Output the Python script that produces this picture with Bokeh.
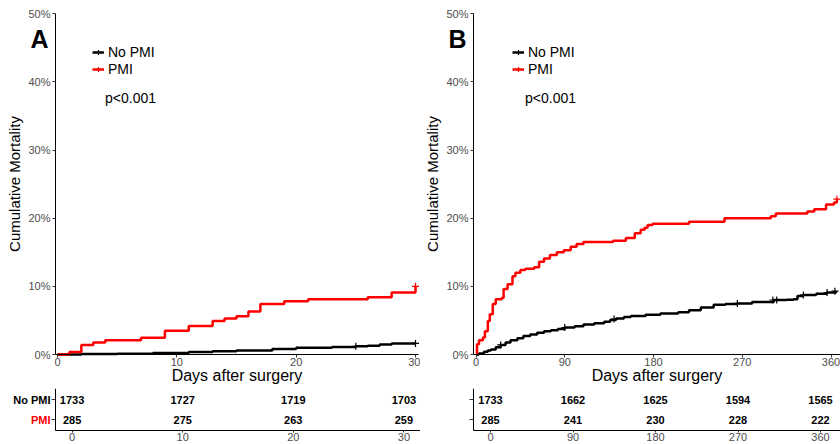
from bokeh.plotting import figure
from bokeh.models import (Legend, LegendItem, Label, FixedTicker, PrintfTickFormatter,
                          Range1d, ColumnDataSource)
from bokeh.layouts import row, column
from bokeh.embed import file_html
from bokeh.resources import INLINE
from bokeh.core.properties import value

FONT = "Liberation Sans"
RED = "#FF0000"
BLACK = "#000000"
TICK_GRAY = "#4D4D4D"

groups = ["No PMI", "PMI"]
y_ticks = [0, 10, 20, 30, 40, 50]

# ---------------- Panel A (30 days) ----------------
a_days_nopmi = [0, 2, 5, 8, 11, 13, 15, 18, 20, 23, 25, 26, 27, 28, 30]
a_cum_nopmi = [0, 0.06, 0.12, 0.23, 0.35, 0.46, 0.58, 0.81, 0.98, 1.1, 1.2, 1.3, 1.45, 1.6, 1.62]
a_days_pmi = [0, 1, 2, 3, 4, 7, 9, 11, 13, 14, 15, 16, 17, 19, 21, 26, 28, 30]
a_cum_pmi = [0, 0.35, 1.4, 1.75, 2.1, 2.45, 3.5, 4.2, 4.9, 5.3, 5.6, 6.3, 7.4, 7.8, 8.1, 8.4, 9.1, 10.0]
a_cens_nopmi_days = [25, 30]
a_cens_nopmi_cum = [1.2, 1.62]
a_cens_pmi_days = [30]
a_cens_pmi_cum = [10.0]
a_ticks = [0, 10, 20, 30]
a_risk_nopmi = [1733, 1727, 1719, 1703]
a_risk_pmi = [285, 275, 263, 259]

# ---------------- Panel B (1 year) ----------------
b_days_nopmi = [0, 3, 8, 12, 15, 20, 25, 30, 35, 42, 48, 55, 62, 69, 76, 83, 90, 100, 109,
                120, 130, 136, 142, 150, 157, 172, 187, 205, 216, 228, 241, 253, 265, 280,
                302, 315, 322, 326, 332, 345, 356, 365]
b_cum_nopmi = [0, 0.15, 0.4, 0.6, 0.75, 1.05, 1.4, 1.75, 2.1, 2.4, 2.7, 2.95, 3.2, 3.4, 3.55,
               3.75, 3.95, 4.15, 4.4, 4.6, 4.8, 5.05, 5.3, 5.5, 5.65, 5.85, 6.0, 6.2, 6.5, 6.9,
               7.3, 7.4, 7.5, 7.7, 8.0, 8.05, 8.1, 8.6, 8.75, 8.9, 9.1, 9.3]
b_days_pmi = [0, 1, 3, 7, 9, 12, 14, 17, 20, 26, 28, 32, 37, 40, 45, 50, 59, 64, 69, 75, 82,
              89, 96, 102, 109, 139, 152, 161, 167, 171, 174, 179, 216, 252, 299, 304, 336,
              343, 355, 363, 366]
b_cum_pmi = [0, 1.5, 2.1, 2.5, 3.4, 4.9, 5.9, 7.4, 8.1, 8.3, 9.6, 10.3, 11.5, 12.0, 12.4,
             12.6, 12.8, 13.6, 14.1, 14.6, 15.0, 15.3, 15.8, 16.2, 16.5, 16.7, 17.1, 17.8,
             18.3, 18.6, 19.0, 19.2, 19.5, 20.0, 20.3, 20.7, 21.0, 21.3, 22.0, 22.3, 22.8]
b_cens_nopmi_days = [25, 90, 140, 265, 301, 305, 332, 356, 364]
b_cens_nopmi_cum = [1.4, 3.95, 5.2, 7.5, 8.0, 8.0, 8.75, 9.1, 9.3]
b_cens_pmi_days = [366]
b_cens_pmi_cum = [22.8]
b_ticks = [0, 90, 180, 270, 360]
b_risk_nopmi = [1733, 1662, 1625, 1594, 1565]
b_risk_pmi = [285, 241, 230, 228, 222]

# ---------------- layout constants (pixels, per panel) ----------------
PW = 420            # panel width
MH = 388            # curve-plot height
TH = 56             # risk-table height
Y_TOP_PX = 13.3     # pixel row of 50 %
Y_ZERO_PX = 354.0   # pixel row of 0 %


def style_axis(ax, font_size="11px"):
    ax.axis_line_color = BLACK
    ax.axis_line_width = 1
    ax.major_tick_line_color = "#333333"
    ax.major_tick_in = 0
    ax.major_tick_out = 3
    ax.minor_tick_line_color = None
    ax.major_label_text_font = FONT
    ax.major_label_text_font_size = font_size
    ax.major_label_text_color = TICK_GRAY
    ax.axis_label_text_font = FONT
    ax.axis_label_text_font_style = "normal"
    ax.axis_label_text_color = BLACK


def x_range_for(zero_px, ppu):
    start = -zero_px / ppu
    return start, start + PW / ppu


def build_panel(letter, ticks, axis_px, end_px, m_zero_px, m_ppu, t_zero_px, t_ppu,
                d_no, c_no, d_pm, c_pm, cd_no, cc_no, cd_pm, cc_pm,
                risk_no, risk_pm, row_labels):
    # ---------- curve plot (frame = whole figure; axes pinned inside) ----------
    y_ppu = (Y_ZERO_PX - Y_TOP_PX) / 50.0
    y_lo = -(MH - Y_ZERO_PX) / y_ppu
    y_hi = Y_ZERO_PX / y_ppu
    xs, xe = x_range_for(m_zero_px, m_ppu)
    x_axis_at = xs + axis_px / m_ppu
    x_end = xs + end_px / m_ppu

    m = figure(width=PW, height=MH, x_range=Range1d(xs, xe), y_range=Range1d(y_lo, y_hi),
               output_backend="svg", toolbar_location=None, min_border=0,
               min_border_left=0, min_border_right=0, min_border_top=0, min_border_bottom=0)
    m.outline_line_color = None
    m.grid.visible = False
    m.background_fill_color = "white"
    m.border_fill_color = "white"

    xa = m.xaxis[0]
    ya = m.yaxis[0]
    style_axis(xa)
    style_axis(ya)
    xa.fixed_location = 0
    xa.bounds = (x_axis_at, x_end)
    xa.ticker = FixedTicker(ticks=ticks)
    xa.major_label_standoff = 0
    xa.axis_label = "Days after surgery"
    xa.axis_label_text_font_size = "16px"
    xa.axis_label_standoff = -2

    ya.fixed_location = x_axis_at
    ya.bounds = (0, 50)
    ya.ticker = FixedTicker(ticks=y_ticks)
    ya.formatter = PrintfTickFormatter(format="%d%%")
    ya.major_label_standoff = 2
    ya.axis_label = "Cumulative Mortality"
    ya.axis_label_text_font_size = "15px"
    ya.axis_label_standoff = 2

    r_no = m.step(d_no, c_no, mode="after", line_color=BLACK, line_width=2.5)
    r_pm = m.step(d_pm, c_pm, mode="after", line_color=RED, line_width=2.5)
    k_no = m.scatter(cd_no, cc_no, marker="cross", size=7, line_color=BLACK, line_width=1.2)
    k_pm = m.scatter(cd_pm, cc_pm, marker="cross", size=7, line_color=RED, line_width=1.2)

    # one legend per row so that the two rows sit as close as in the original
    for lab, rends, ly in [(groups[0], [r_no, k_no], MH - 60), (groups[1], [r_pm, k_pm], MH - 76.5)]:
        lg = Legend(items=[LegendItem(label=lab, renderers=rends)],
                    location=(92, ly), orientation="vertical",
                    label_text_font=FONT, label_text_font_size="14px",
                    label_text_color=BLACK,
                    glyph_width=12, glyph_height=14, label_height=14,
                    label_standoff=4, padding=0, margin=0, spacing=0,
                    border_line_color=None, background_fill_alpha=0)
        m.add_layout(lg, "center")

    m.add_layout(Label(x=104.5, y=MH - 97, x_units="screen", y_units="screen", text="p<0.001",
                       text_font=FONT, text_font_size="14px", text_color=BLACK,
                       text_baseline="middle", text_align="left"))
    m.add_layout(Label(x=axis_px - 16, y=MH - 38, x_units="screen", y_units="screen",
                       text=letter, text_font=FONT, text_font_size="25px",
                       text_font_style="bold", text_color=BLACK,
                       text_baseline="middle", text_align="center"))

    # ---------- risk table ----------
    row_ppu = 20.0
    ty_hi = 2 + 11 / row_ppu          # top pixel of the table panel
    ty_lo = 1 - (TH - 31) / row_ppu   # bottom pixel of the table panel
    t_axis_y = 1 - 11 / row_ppu       # pixel row 42 of the table panel
    txs, txe = x_range_for(t_zero_px, t_ppu)
    t_axis_x = txs + axis_px / t_ppu

    t = figure(width=PW, height=TH, x_range=Range1d(txs, txe), y_range=Range1d(ty_lo, ty_hi),
               output_backend="svg", toolbar_location=None, min_border=0,
               min_border_left=0, min_border_right=0, min_border_top=0, min_border_bottom=0)
    t.outline_line_color = None
    t.grid.visible = False
    txa = t.xaxis[0]
    tya = t.yaxis[0]
    style_axis(txa)
    style_axis(tya)
    txa.fixed_location = t_axis_y
    txa.bounds = (t_axis_x, txe)
    txa.ticker = FixedTicker(ticks=ticks)
    txa.major_tick_out = 2
    txa.major_label_standoff = 0
    tya.fixed_location = t_axis_x
    tya.bounds = (t_axis_y, ty_hi)
    tya.ticker = FixedTicker(ticks=[1, 2])
    tya.major_tick_out = 4
    tya.major_label_standoff = 1
    tya.major_label_overrides = {1: " ", 2: groups[0]}
    tya.major_label_text_color = BLACK
    tya.major_label_text_font_style = "bold"
    if not row_labels:
        tya.major_label_text_color = None
    else:
        t.add_layout(Label(x=axis_px - 5, y=1, x_units="screen", y_units="data",
                           text=groups[1], text_font=FONT, text_font_size="11px",
                           text_font_style="bold", text_color=RED,
                           text_align="right", text_baseline="middle"))

    src = ColumnDataSource(dict(
        x=list(ticks) + list(ticks),
        y=[2] * len(ticks) + [1] * len(ticks),
        txt=[str(v) for v in risk_no] + [str(v) for v in risk_pm]))
    t.text(x="x", y="y", text="txt", source=src, text_align="center",
           text_baseline="middle", text_font=value(FONT), text_font_size="11px",
           text_font_style="bold", text_color=BLACK)
    return column(m, t, spacing=0)


panel_a = build_panel("A", a_ticks, 55, 418, 57.0, (415.0 - 57.0) / 30, 71.6, (403.4 - 71.6) / 30,
                      a_days_nopmi, a_cum_nopmi, a_days_pmi, a_cum_pmi,
                      a_cens_nopmi_days, a_cens_nopmi_cum, a_cens_pmi_days, a_cens_pmi_cum,
                      a_risk_nopmi, a_risk_pmi, True)
panel_b = build_panel("B", b_ticks, 53, 420, 55.5, (410.5 - 55.5) / 360, 70.0, (400.0 - 70.0) / 360,
                      b_days_nopmi, b_cum_nopmi, b_days_pmi, b_cum_pmi,
                      b_cens_nopmi_days, b_cens_nopmi_cum, b_cens_pmi_days, b_cens_pmi_cum,
                      b_risk_nopmi, b_risk_pmi, False)

p = row(panel_a, panel_b, spacing=0)

with open("out.html", "w") as f:
    f.write(file_html(p, INLINE))
